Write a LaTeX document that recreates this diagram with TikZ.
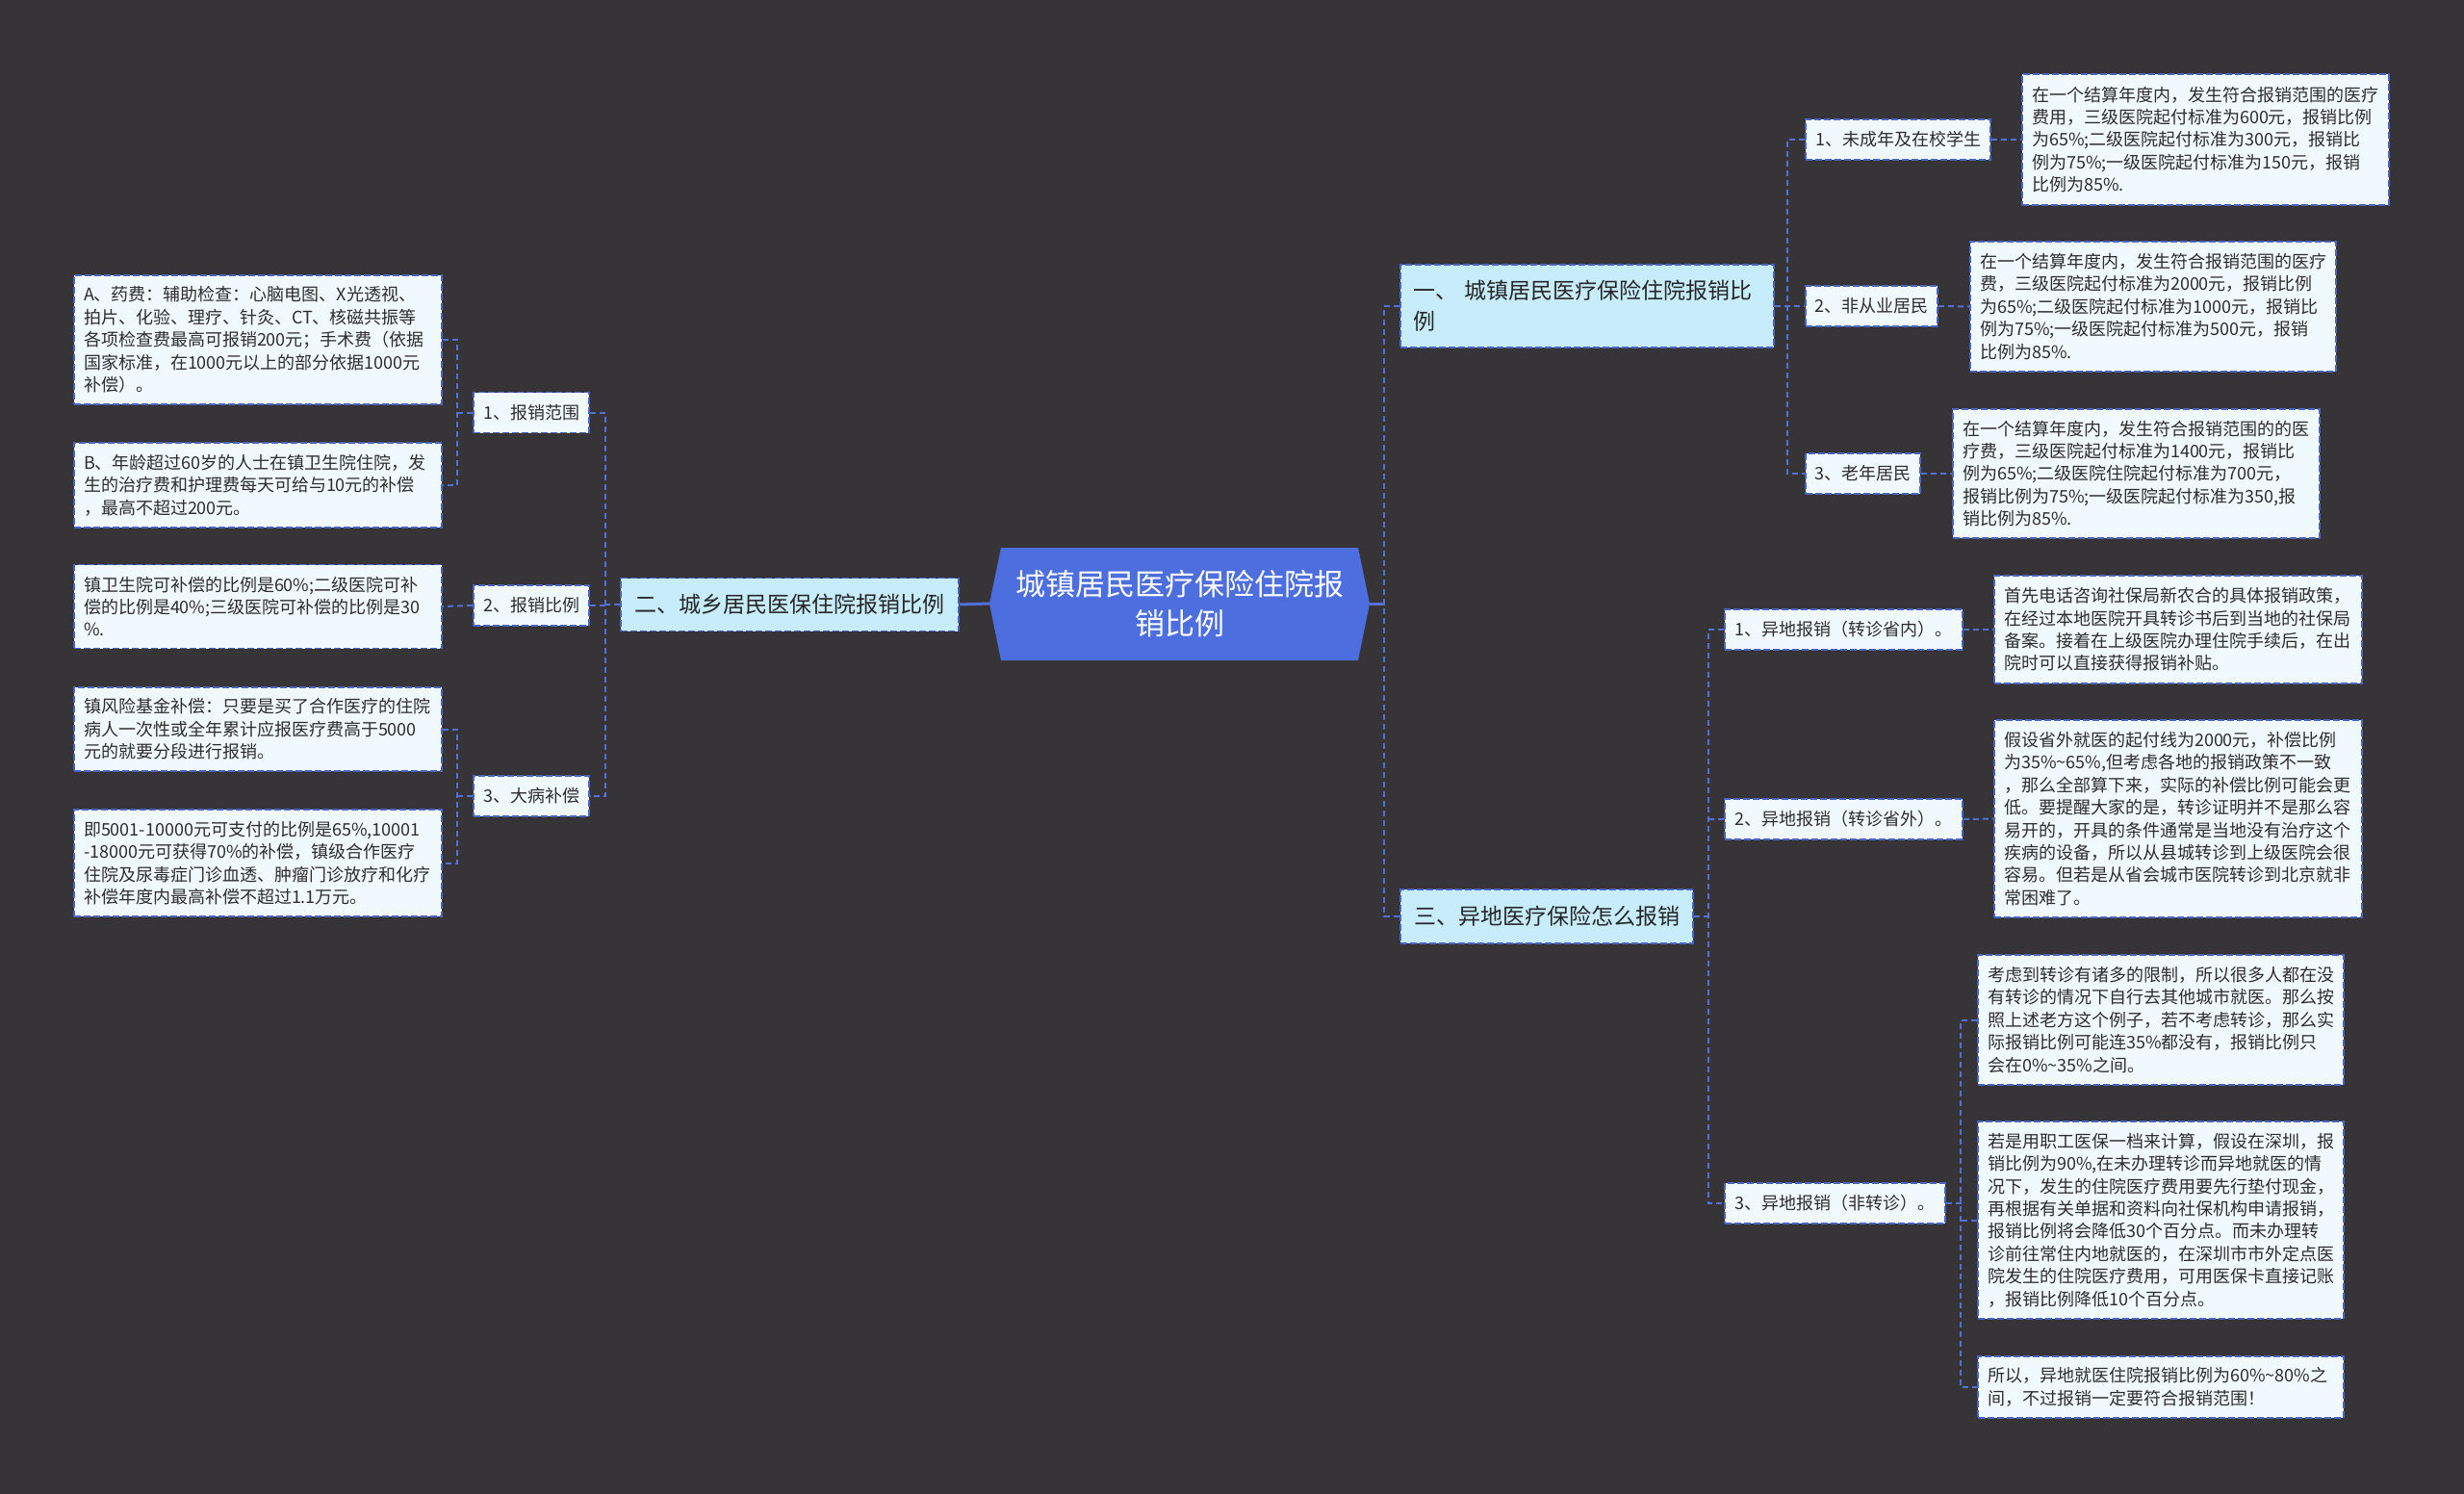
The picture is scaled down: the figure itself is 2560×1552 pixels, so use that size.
\documentclass[tikz,border=0pt]{standalone}
\usepackage{fontspec}
\newfontfamily\cjk{Noto Sans CJK SC}
\definecolor{bg}{RGB}{54,52,55}
\definecolor{rootblue}{RGB}{77,110,222}
\definecolor{topicfill}{RGB}{199,236,252}
\definecolor{leaffill}{RGB}{240,250,254}
\definecolor{bdblue}{RGB}{72,100,200}
\definecolor{lnblue}{RGB}{82,112,215}
\definecolor{txtgray}{RGB}{45,45,45}
\tikzset{
  conn/.style={draw=lnblue, line width=2pt, dash pattern=on 6pt off 4pt},
  solidconn/.style={draw=lnblue, line width=3pt},
  leaf/.style={draw=bdblue, line width=1.8pt, dash pattern=on 7pt off 3pt, fill=leaffill,
    font=\cjk\fontsize{18}{23.4}\selectfont, text=txtgray, align=left,
    inner xsep=10pt, inner ysep=0pt},
  sub/.style={draw=bdblue, line width=1.8pt, dash pattern=on 7pt off 3pt, fill=leaffill,
    font=\cjk\fontsize{18}{23.4}\selectfont, text=txtgray, align=center,
    inner xsep=0pt, inner ysep=0pt, minimum height=42pt},
  topic/.style={draw=bdblue, line width=1.8pt, dash pattern=on 7pt off 3pt, fill=topicfill,
    font=\cjk\fontsize{23}{32}\selectfont, text=black!85, inner xsep=0pt, inner ysep=0pt},
}
\begin{document}
\begin{tikzpicture}[x=1pt,y=-1pt]
\fill[bg] (0,0) rectangle (2560,1552);
\useasboundingbox (0,0) rectangle (2560,1552);

% root
\fill[rootblue] (1040,569) -- (1411,569) -- (1423,627) -- (1411,686) -- (1040,686) -- (1028,627) -- cycle;
\node[inner sep=0pt, minimum width=395pt, minimum height=117pt, align=center, text=white,
  font=\cjk\fontsize{31}{41}\selectfont] (root) at (1225.5,627) {城镇居民医疗保险住院报\\销比例};

% level 1
\node[topic, minimum width=351pt, minimum height=55pt] (n2) at (820.5,628) {二、城乡居民医保住院报销比例};
\node[topic, minimum width=388pt, minimum height=86pt, text width=362pt, align=left] (n1) at (1649,318) {一、 城镇居民医疗保险住院报销比\\例};
\node[topic, minimum width=304pt, minimum height=56pt] (n3) at (1607,952) {三、异地医疗保险怎么报销};

% left level 2
\node[sub, minimum width=120pt] (e1) at (552,428.5) {1、报销范围};
\node[sub, minimum width=120pt] (e2) at (552,629) {2、报销比例};
\node[sub, minimum width=120pt] (e3) at (552,827) {3、大病补偿};

% left leaves
\node[leaf, text width=362pt, minimum height=134pt] (A) at (268,353) {A、药费：辅助检查：心脑电图、X光透视、\\拍片、化验、理疗、针灸、CT、核磁共振等\\各项检查费最高可报销200元；手术费（依据\\国家标准，在1000元以上的部分依据1000元\\补偿）。};
\node[leaf, text width=362pt, minimum height=88pt] (B) at (268,504) {B、年龄超过60岁的人士在镇卫生院住院，发\\生的治疗费和护理费每天可给与10元的补偿\\，最高不超过200元。};
\node[leaf, text width=362pt, minimum height=87pt] (F) at (268,630) {镇卫生院可补偿的比例是60\%;二级医院可补\\偿的比例是40\%;三级医院可补偿的比例是30\\\%.};
\node[leaf, text width=362pt, minimum height=87pt] (G) at (268,757.5) {镇风险基金补偿：只要是买了合作医疗的住院\\病人一次性或全年累计应报医疗费高于5000\\元的就要分段进行报销。};
\node[leaf, text width=362pt, minimum height=111pt] (H) at (268,896.5) {即5001-10000元可支付的比例是65\%,10001\\-18000元可获得70\%的补偿，镇级合作医疗\\住院及尿毒症门诊血透、肿瘤门诊放疗和化疗\\补偿年度内最高补偿不超过1.1万元。};

% right level 2 (under 一)
\node[sub, minimum width=192pt] (c1) at (1972,145) {1、未成年及在校学生};
\node[sub, minimum width=137pt] (c2) at (1944.5,318) {2、非从业居民};
\node[sub, minimum width=119pt] (c3) at (1935.5,492) {3、老年居民};

\node[leaf, text width=361pt, minimum height=136pt] (L1) at (2291.5,145) {在一个结算年度内，发生符合报销范围的医疗\\费用，三级医院起付标准为600元，报销比例\\为65\%;二级医院起付标准为300元，报销比\\例为75\%;一级医院起付标准为150元，报销\\比例为85\%.};
\node[leaf, text width=360pt, minimum height=135pt] (L2) at (2237,318.5) {在一个结算年度内，发生符合报销范围的医疗\\费，三级医院起付标准为2000元，报销比例\\为65\%;二级医院起付标准为1000元，报销比\\例为75\%;一级医院起付标准为500元，报销\\比例为85\%.};
\node[leaf, text width=361pt, minimum height=134pt] (L3) at (2219.5,492) {在一个结算年度内，发生符合报销范围的的医\\疗费，三级医院起付标准为1400元，报销比\\例为65\%;二级医院住院起付标准为700元，\\报销比例为75\%;一级医院起付标准为350,报\\销比例为85\%.};

% right level 2 (under 三)
\node[sub, minimum width=247pt] (d1) at (1915.5,654) {1、异地报销（转诊省内）。};
\node[sub, minimum width=247pt] (d2) at (1915.5,851) {2、异地报销（转诊省外）。};
\node[sub, minimum width=229pt] (d3) at (1906.5,1250) {3、异地报销（非转诊）。};

\node[leaf, text width=362pt, minimum height=112pt] (R1) at (2263,654) {首先电话咨询社保局新农合的具体报销政策，\\在经过本地医院开具转诊书后到当地的社保局\\备案。接着在上级医院办理住院手续后，在出\\院时可以直接获得报销补贴。};
\node[leaf, text width=362pt, minimum height=205pt] (R2) at (2263,850.5) {假设省外就医的起付线为2000元，补偿比例\\为35\%\textasciitilde65\%,但考虑各地的报销政策不一致\\，那么全部算下来，实际的补偿比例可能会更\\低。要提醒大家的是，转诊证明并不是那么容\\易开的，开具的条件通常是当地没有治疗这个\\疾病的设备，所以从县城转诊到上级医院会很\\容易。但若是从省会城市医院转诊到北京就非\\常困难了。};
\node[leaf, text width=360pt, minimum height=135pt] (R3) at (2245,1059.5) {考虑到转诊有诸多的限制，所以很多人都在没\\有转诊的情况下自行去其他城市就医。那么按\\照上述老方这个例子，若不考虑转诊，那么实\\际报销比例可能连35\%都没有，报销比例只\\会在0\%\textasciitilde35\%之间。};
\node[leaf, text width=360pt, minimum height=205pt] (R4) at (2245,1267.5) {若是用职工医保一档来计算，假设在深圳，报\\销比例为90\%,在未办理转诊而异地就医的情\\况下，发生的住院医疗费用要先行垫付现金，\\再根据有关单据和资料向社保机构申请报销，\\报销比例将会降低30个百分点。而未办理转\\诊前往常住内地就医的，在深圳市市外定点医\\院发生的住院医疗费用，可用医保卡直接记账\\，报销比例降低10个百分点。};
\node[leaf, text width=360pt, minimum height=64pt] (R5) at (2245,1441) {所以，异地就医住院报销比例为60\%\textasciitilde80\%之\\间，不过报销一定要符合报销范围！};

% connectors: root
\draw[solidconn] (n2.east) -- (root.west);
\coordinate (rb) at (1439,627);
\draw[solidconn] (root.east) -- (rb);
\draw[conn] (n1.west) -- ++(-16,0) |- (n3.west);

% left
\draw[conn] (n2.west) -- ++(-17,0);
\draw[conn] (e1.east) -- ++(16,0) |- (e3.east);
\draw[conn] (e2.east) -- ++(16,0);
\draw[conn] (A.east) -- ++(15,0) |- (B.east);
\draw[conn] (e1.west) -- ++(-18,0);
\draw[conn] (e2.west) -- (F.east);
\draw[conn] (G.east) -- ++(15,0) |- (H.east);
\draw[conn] (e3.west) -- ++(-18,0);

% right under 一
\draw[conn] (c1.west) -- ++(-18,0) |- (c3.west);
\draw[conn] (n1.east) -- (c2.west);
\draw[conn] (c1.east) -- (L1.west);
\draw[conn] (c2.east) -- (L2.west);
\draw[conn] (c3.east) -- (L3.west);

% right under 三
\draw[conn] (d1.west) -- ++(-16,0) |- (d3.west);
\draw[conn] (n3.east) -- ++(17,0);
\draw[conn] (d2.west) -- ++(-16,0);
\draw[conn] (d1.east) -- (R1.west);
\draw[conn] (d2.east) -- (R2.west);
\draw[conn] (R3.west) -- ++(-17,0) |- (R5.west);
\draw[conn] (R4.west) -- ++(-17,0);
\draw[conn] (d3.east) -- ++(17,0);
\end{tikzpicture}
\end{document}
